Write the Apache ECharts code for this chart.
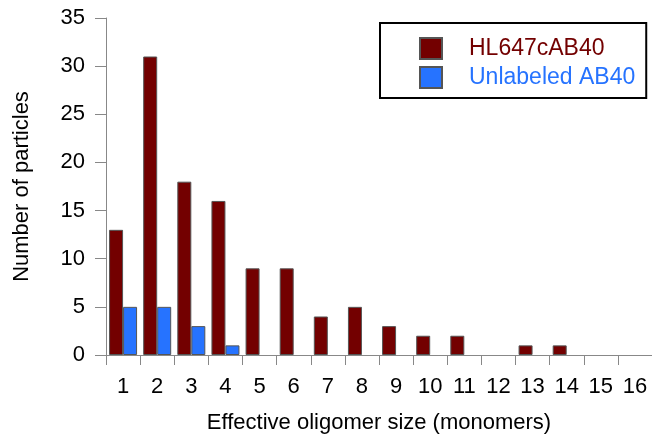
<!DOCTYPE html>
<html>
<head>
<meta charset="utf-8">
<script src="https://cdn.jsdelivr.net/npm/echarts@6/dist/echarts.min.js"></script>
<style>html,body{margin:0;padding:0;background:#fff}#c{width:652px;height:439px}</style>
</head>
<body>
<div id="c"></div>
<script>
const categories = ['1','2','3','4','5','6','7','8','9','10','11','12','13','14','15','16'];
const labeledValues = [13,31,18,16,9,9,4,5,3,2,2,0,1,1,0,0];
const unlabeledValues = [5,5,3,1,0,0,0,0,0,0,0,0,0,0,0,0];
const seriesNames = ['HL647cAB40','Unlabeled AB40'];
const seriesColors = ['#730000','#2673ff'];
const font = 'Liberation Sans, Arial, sans-serif';
const fs = 22;
const legendFs = 23;

function toBarData(values){
  return values.map(v => v === 0 ? {value:v, itemStyle:{borderWidth:0, opacity:0}} : v);
}
function legendText(color){
  return {color:color, fontSize:legendFs, fontFamily:font, lineHeight:21, padding:[0,0,0,22]};
}

const chart = echarts.init(document.getElementById('c'), null, {renderer:'canvas'});
chart.setOption({
  animation:false,
  backgroundColor:'#fff',
  grid:{left:106, top:18, width:549, height:341, containLabel:false},
  legend:{
    left:380, top:23, orient:'vertical',
    borderColor:'#000', borderWidth:2, borderRadius:0,
    padding:[14,11,9,39],
    itemWidth:22, itemHeight:21, itemGap:6,
    icon:'rect',
    textStyle:{fontSize:legendFs, fontFamily:font, lineHeight:21, padding:[0,0,0,22]},
    data:[
      {name:seriesNames[0], textStyle:legendText(seriesColors[0])},
      {name:seriesNames[1], textStyle:legendText(seriesColors[1])}
    ]
  },
  xAxis:{
    type:'category', data:categories, boundaryGap:true,
    name:'Effective oligomer size (monomers)', nameLocation:'middle', nameGap:57,
    nameTextStyle:{fontSize:fs, color:'#000', fontFamily:font},
    axisLine:{lineStyle:{color:'#888', width:1}},
    axisTick:{show:true, length:10, lineStyle:{color:'#888'}},
    axisLabel:{fontSize:fs, color:'#000', fontFamily:font, margin:21},
    splitLine:{show:false}
  },
  yAxis:{
    type:'value', min:0, max:35, interval:5,
    name:'Number of particles', nameLocation:'middle', nameGap:73,
    nameTextStyle:{fontSize:fs, color:'#000', fontFamily:font},
    axisLine:{show:true, lineStyle:{color:'#888', width:1}},
    axisTick:{show:true, length:11, lineStyle:{color:'#888'}},
    axisLabel:{fontSize:fs, color:'#000', fontFamily:font, margin:21},
    splitLine:{show:false}
  },
  series:[
    {name:seriesNames[0], type:'bar', data:toBarData(labeledValues), barWidth:14, barGap:'0%',
     itemStyle:{color:seriesColors[0], borderColor:'#555', borderWidth:1}},
    {name:seriesNames[1], type:'bar', data:toBarData(unlabeledValues), barWidth:14, barGap:'0%',
     itemStyle:{color:seriesColors[1], borderColor:'#555', borderWidth:1}}
  ]
});
</script>
</body>
</html>
